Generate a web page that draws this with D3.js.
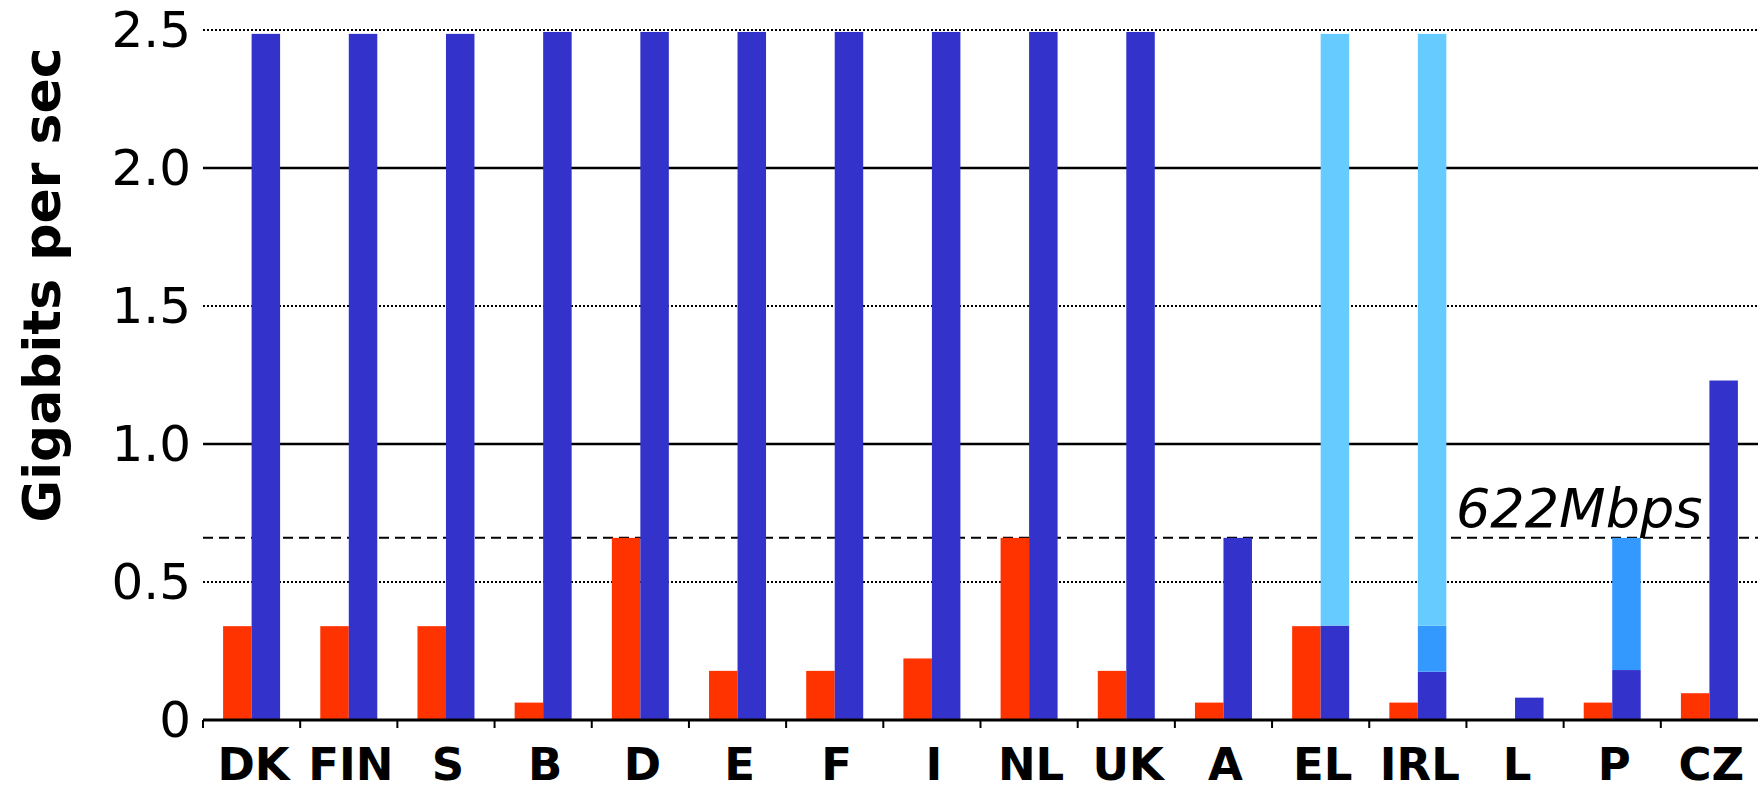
<!DOCTYPE html>
<html>
<head>
<meta charset="utf-8">
<script src="https://cdn.jsdelivr.net/npm/d3@7"></script>
<style>
  body { margin: 0; background: #fff; }
  svg { display: block; font-family: "DejaVu Sans", Verdana, sans-serif; }
</style>
</head>
<body>
<script>
const countries = ["DK", "FIN", "S", "B", "D", "E", "F", "I", "NL", "UK", "A", "EL", "IRL", "L", "P", "CZ"];
// red bars
const redValues = [0.34, 0.34, 0.34, 0.063, 0.66, 0.178, 0.178, 0.223, 0.66, 0.178, 0.063, 0.34, 0.063, 0, 0.063, 0.097];
// blue bars, stacked: dark part, mid part, light part
const blueDark = [2.486, 2.486, 2.486, 2.493, 2.493, 2.493, 2.493, 2.493, 2.493, 2.493, 0.66, 0.342, 0.175, 0.081, 0.181, 1.23];
const blueMid = [0, 0, 0, 0, 0, 0, 0, 0, 0, 0, 0, 0, 0.167, 0, 0.479, 0];
const blueLight = [0, 0, 0, 0, 0, 0, 0, 0, 0, 0, 0, 2.144, 2.144, 0, 0, 0];
const yTicks = [0, 0.5, 1.0, 1.5, 2.0, 2.5];
const refLine = 0.66;
const refLabel = "622Mbps";

const width = 1760, height = 786;
const plotLeft = 203, plotRight = 1758, plotTop = 30, plotBottom = 720;

const svg = d3.select("body").append("svg")
  .attr("width", width)
  .attr("height", height);

const x = d3.scaleBand().domain(countries).range([plotLeft, plotRight]).padding(0);
const barW = 28.5;
const xs = d3.scaleBand().domain(["red", "blue"])
  .range([x.bandwidth() / 2 - barW, x.bandwidth() / 2 + barW]);
const y = d3.scaleLinear().domain([0, 2.5]).range([plotBottom, plotTop]);

// gridlines
svg.append("g")
  .selectAll("line")
  .data(yTicks.filter(d => d > 0))
  .join("line")
  .attr("x1", plotLeft)
  .attr("x2", plotRight)
  .attr("y1", d => y(d))
  .attr("y2", d => y(d))
  .style("stroke", "#000")
  .style("stroke-width", d => (d % 1 === 0 ? 2.5 : 2))
  .style("stroke-dasharray", d => (d % 1 === 0 ? null : "2,2"));

// 622Mbps reference line
svg.append("line")
  .attr("x1", plotLeft)
  .attr("x2", plotRight)
  .attr("y1", y(refLine))
  .attr("y2", y(refLine))
  .style("stroke", "#000")
  .style("stroke-width", 2)
  .style("stroke-dasharray", "10,6");

svg.append("text")
  .attr("x", 1456)
  .attr("y", y(refLine) - 11)
  .style("font-size", "54px")
  .style("font-style", "italic")
  .text(refLabel);

// red bars
svg.append("g")
  .selectAll("rect")
  .data(countries.map((c, i) => ({ c, v: redValues[i] })))
  .join("rect")
  .attr("x", d => x(d.c) + xs("red"))
  .attr("width", xs.bandwidth())
  .attr("y", d => y(d.v))
  .attr("height", d => y(0) - y(d.v))
  .style("fill", "#FF3300");

// blue stacked bars
const rows = countries.map((c, i) => ({ c, dark: blueDark[i], mid: blueMid[i], light: blueLight[i] }));
const stack = d3.stack().keys(["dark", "mid", "light"])(rows);
const blueColors = { dark: "#3333CC", mid: "#3399FF", light: "#66CCFF" };

svg.append("g")
  .selectAll("g")
  .data(stack)
  .join("g")
  .style("fill", s => blueColors[s.key])
  .selectAll("rect")
  .data(s => s.filter(d => d[1] - d[0] > 0))
  .join("rect")
  .attr("x", d => x(d.data.c) + xs("blue"))
  .attr("width", xs.bandwidth())
  .attr("y", d => y(d[1]))
  .attr("height", d => y(d[0]) - y(d[1]));

// y tick labels
const yAxis = svg.append("g")
  .attr("transform", `translate(${plotLeft - 12},0)`)
  .call(d3.axisLeft(y).tickValues(yTicks).tickSize(0)
    .tickFormat(d => (d === 0 ? "0" : d3.format(".1f")(d))));
yAxis.select(".domain").remove();
yAxis.selectAll("text")
  .attr("x", 0)
  .style("font-family", "DejaVu Sans, sans-serif")
  .style("font-size", "50px")
  .style("fill", "#000");

// x axis line and ticks at band edges
svg.append("line")
  .attr("x1", plotLeft)
  .attr("x2", plotRight)
  .attr("y1", plotBottom)
  .attr("y2", plotBottom)
  .style("stroke", "#000")
  .style("stroke-width", 3);

svg.append("g")
  .selectAll("line")
  .data(countries)
  .join("line")
  .attr("x1", d => x(d))
  .attr("x2", d => x(d))
  .attr("y1", plotBottom)
  .attr("y2", plotBottom + 8)
  .style("stroke", "#000")
  .style("stroke-width", 2);

svg.append("g")
  .selectAll("text")
  .data(countries)
  .join("text")
  .attr("x", d => x(d) + x.bandwidth() / 2 + 2)
  .attr("y", 780)
  .attr("text-anchor", "middle")
  .style("font-size", "45px")
  .style("font-weight", "bold")
  .text(d => d);

// y title
svg.append("text")
  .attr("transform", "translate(60,285) rotate(-90)")
  .attr("text-anchor", "middle")
  .style("font-size", "52px")
  .style("font-weight", "bold")
  .text("Gigabits per sec");
</script>
</body>
</html>
